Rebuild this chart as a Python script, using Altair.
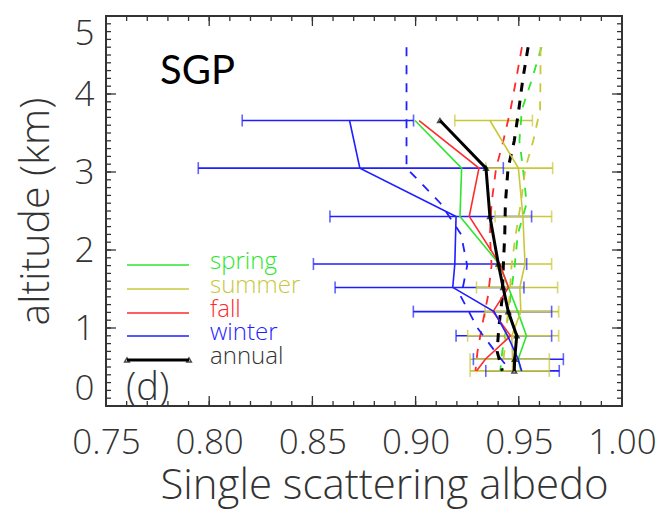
import altair as alt
import numpy as np
import pandas as pd

# Flight-leg altitudes (km) of the seasonal / annual mean profiles
levels = [3.66, 3.05, 2.43, 1.82, 1.52, 1.21, 0.90, 0.60, 0.45]

spring = [0.8997, 0.9223, 0.9215, 0.9405, 0.9450, 0.9495, 0.9537, 0.9497, 0.9510]
summer = [0.9360, 0.9498, 0.9520, 0.9530, 0.9505, 0.9510, 0.9466, 0.9470, 0.9470]
fall   = [0.9017, 0.9307, 0.9260, 0.9408, 0.9450, 0.9375, 0.9460, 0.9338, 0.9295]
winter = [0.8680, 0.8730, 0.9196, 0.9190, 0.9180, 0.9380, 0.9446, 0.9497, 0.9514]
annual = [0.9118, 0.9341, 0.9360, 0.9401, 0.9424, 0.9449, 0.9490, 0.9480, 0.9478]

# Spread of the winter and summer profiles
winter_lo = [0.8160, 0.7947, 0.8585, 0.8505, 0.8610, 0.8989, 0.9196, 0.9280, 0.9340]
winter_hi = [0.8990, 0.9425, 0.9562, 0.9538, 0.9525, 0.9659, 0.9659, 0.9716, 0.9696]
summer_lo = [0.9190, 0.9340, 0.9385, 0.9395, 0.9295, 0.9336, 0.9252, 0.9264, 0.9264]
summer_hi = [0.9566, 0.9664, 0.9659, 0.9659, 0.9688, 0.9693, 0.9693, 0.9648, 0.9648]

# Dashed (smooth) profiles
dash_levels = [4.6, 4.2, 3.8, 3.4, 3.05, 2.6, 2.2, 1.8, 1.4, 1.0, 0.7, 0.45]
spring_d = [0.9610, 0.9565, 0.9515, 0.9503, 0.9520, 0.9538, 0.9495, 0.9480, 0.9460, 0.9440, 0.9420, 0.9410]
summer_d = [0.9605, 0.9605, 0.9603, 0.9570, 0.9532, 0.9510, 0.9485, 0.9465, 0.9455, 0.9440, 0.9430, 0.9420]
fall_d   = [0.9515, 0.9488, 0.9460, 0.9425, 0.9390, 0.9368, 0.9360, 0.9368, 0.9350, 0.9320, 0.9300, 0.9290]
winter_d = [0.8956, 0.8956, 0.8956, 0.8956, 0.8956, 0.9120, 0.9220, 0.9250, 0.9220, 0.9300, 0.9385, 0.9460]
annual_d = [0.9545, 0.9520, 0.9500, 0.9478, 0.9448, 0.9435, 0.9432, 0.9425, 0.9420, 0.9403, 0.9395, 0.9420]

series_names = ["spring", "summer", "fall", "winter", "annual"]
series_colors = ["#2ee62e", "#c8c83a", "#ff2a2a", "#1f1fff", "#000000"]

x_major = [0.75, 0.80, 0.85, 0.90, 0.95, 1.00]
y_major = [0, 1, 2, 3, 4, 5]

W, H = 516, 390
FONT = "Open Sans"
INK = "#333333"


def profile_frame(alts, table):
    rows = []
    for name, vals in table.items():
        for i, (a, v) in enumerate(zip(alts, vals)):
            rows.append({"series": name, "alt": a, "ssa": v, "ord": i})
    return pd.DataFrame(rows)


solid = profile_frame(levels, dict(zip(series_names, [spring, summer, fall, winter, annual])))
dashed = profile_frame(dash_levels, dict(zip(series_names, [spring_d, summer_d, fall_d, winter_d, annual_d])))

bars = pd.concat([
    pd.DataFrame({"series": "winter", "alt": levels, "lo": winter_lo, "hi": winter_hi}),
    pd.DataFrame({"series": "summer", "alt": levels, "lo": summer_lo, "hi": summer_hi}),
])

xs = alt.Scale(domain=[0.75, 1.0], nice=False, zero=False)
ys = alt.Scale(domain=[0, 5], nice=False, zero=False)
cs = alt.Scale(domain=series_names, range=series_colors)

x_axis = alt.Axis(values=x_major, format=".2f", ticks=False, domain=False, grid=False,
                  labelFlush=False, labelPadding=19, title="Single scattering albedo",
                  titlePadding=5, titleX=278)
y_axis = alt.Axis(values=y_major, format="d", ticks=False, domain=False, grid=False,
                  labelFlush=True, labelPadding=12, title="altitude (km)", titlePadding=17,
                  titleFontSize=41)


def X(field):
    return alt.X(field, scale=xs, axis=x_axis)


def Y(field):
    return alt.Y(field, scale=ys, axis=y_axis)


color = alt.Color("series:N", scale=cs, legend=None)

seasons_solid = alt.Chart(solid[solid.series != "annual"]).mark_line(strokeWidth=1.6).encode(
    x=X("ssa:Q"), y=Y("alt:Q"), color=color, order=alt.Order("ord:Q"))
annual_solid = alt.Chart(solid[solid.series == "annual"]).mark_line(strokeWidth=3, color="black").encode(
    x=X("ssa:Q"), y=Y("alt:Q"), order=alt.Order("ord:Q"))
annual_pts = alt.Chart(solid[solid.series == "annual"]).mark_point(
    shape="triangle-up", size=22, filled=False, color="black", strokeWidth=1.5).encode(
    x=X("ssa:Q"), y=Y("alt:Q"))

seasons_dash = alt.Chart(dashed[dashed.series != "annual"]).mark_line(
    strokeWidth=1.8, strokeDash=[9, 9]).encode(
    x=X("ssa:Q"), y=Y("alt:Q"), color=color, order=alt.Order("ord:Q"))
annual_dash = alt.Chart(dashed[dashed.series == "annual"]).mark_line(
    strokeWidth=3, strokeDash=[9, 9], color="black").encode(
    x=X("ssa:Q"), y=Y("alt:Q"), order=alt.Order("ord:Q"))

bar_rules = alt.Chart(bars).mark_rule(strokeWidth=1.6).encode(
    x=X("lo:Q"), x2="hi:Q", y=Y("alt:Q"), color=color)
bar_caps = alt.Chart(bars).transform_fold(["lo", "hi"], as_=["end", "xv"]).mark_tick(
    orient="vertical", size=12, thickness=1.6).encode(
    x=X("xv:Q"), y=Y("alt:Q"), color=color)

# Inward-pointing axis ticks on all four sides of the frame
x_minor = pd.DataFrame({"v": np.round(np.arange(0.75, 1.0001, 0.01), 2)})
x_maj = pd.DataFrame({"v": x_major})
y_minor = pd.DataFrame({"v": np.round(np.arange(0, 5.0001, 0.1), 1)})
y_maj = pd.DataFrame({"v": y_major})

tick_layers = []
for df, ln in [(x_minor, 5), (x_maj, 10)]:
    tick_layers.append(alt.Chart(df).mark_rule(color=INK, strokeWidth=1.3).encode(
        x=X("v:Q"), y=alt.value(H), y2=alt.value(H - ln)))
    tick_layers.append(alt.Chart(df).mark_rule(color=INK, strokeWidth=1.3).encode(
        x=X("v:Q"), y=alt.value(0), y2=alt.value(ln)))
for df, ln in [(y_minor, 5), (y_maj, 10)]:
    tick_layers.append(alt.Chart(df).mark_rule(color=INK, strokeWidth=1.3).encode(
        y=Y("v:Q"), x=alt.value(0), x2=alt.value(ln)))
    tick_layers.append(alt.Chart(df).mark_rule(color=INK, strokeWidth=1.3).encode(
        y=Y("v:Q"), x=alt.value(W), x2=alt.value(W - ln)))

# Legend drawn inside the frame
legend_layers = []
leg_y = [249, 273, 297, 320, 344]
one = pd.DataFrame({"k": [0]})
for name, col, ly in zip(series_names, series_colors, leg_y):
    sw = 3 if name == "annual" else 1.6
    legend_layers.append(alt.Chart(one).mark_rule(color=col, strokeWidth=sw).encode(
        x=alt.value(21), x2=alt.value(83), y=alt.value(ly)))
    legend_layers.append(alt.Chart(pd.DataFrame({"label": [name]})).mark_text(
        align="left", baseline="middle", font=FONT, fontSize=24, fontWeight=300,
        color=col if name != "annual" else INK,
        dy=-3).encode(x=alt.value(104), y=alt.value(ly), text="label:N"))
for lx in [21, 83]:
    legend_layers.append(alt.Chart(one).mark_point(
        shape="triangle-up", size=22, filled=False, color="black", strokeWidth=1.5).encode(
        x=alt.value(lx), y=alt.value(leg_y[-1])))

site = alt.Chart(pd.DataFrame({"t": ["SGP"]})).mark_text(
    align="left", baseline="alphabetic", font="Lato", fontSize=40, color="black").encode(
    x=alt.value(54), y=alt.value(68), text="t:N")
panel = alt.Chart(pd.DataFrame({"t": ["(d)"]})).mark_text(
    align="left", baseline="alphabetic", font=FONT, fontSize=38, fontWeight=300, color=INK).encode(
    x=alt.value(20), y=alt.value(384), text="t:N")

chart = alt.layer(
    *tick_layers, bar_rules, bar_caps, seasons_dash, annual_dash,
    seasons_solid, annual_solid, annual_pts, *legend_layers, site, panel
).properties(
    width=W, height=H,
    padding={"left": 106, "top": 16, "right": 41, "bottom": 106},
    autosize=alt.AutoSizeParams(type="none"),
).configure_view(
    stroke=INK, strokeWidth=2
).configure_axis(
    labelFont=FONT, titleFont=FONT, labelFontSize=35, titleFontSize=42,
    labelColor=INK, titleColor=INK, titleFontWeight=300, labelFontWeight=300,
)

chart.save("out.html", embed_options={"renderer": "svg", "actions": False})
